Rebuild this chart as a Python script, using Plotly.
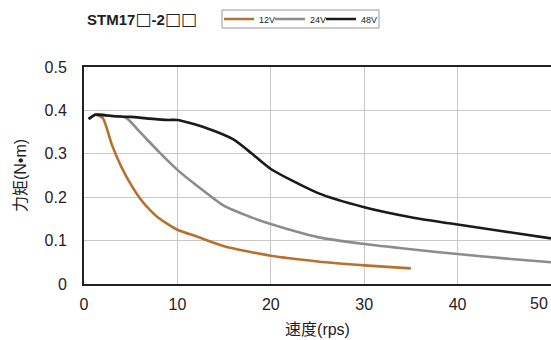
import plotly.graph_objects as go

x12 = [0.5, 1.2, 2, 3, 4, 5, 6, 7, 8, 10, 12, 15, 20, 25, 30, 35]
y12 = [0.38, 0.39, 0.383, 0.32, 0.27, 0.23, 0.197, 0.172, 0.152, 0.125, 0.11, 0.087, 0.065, 0.052, 0.043, 0.036]

x24 = [0.5, 1.2, 3, 4.5, 6, 8, 10, 12, 15, 18, 20, 25, 30, 35, 40, 45, 50]
y24 = [0.38, 0.39, 0.387, 0.383, 0.35, 0.305, 0.263, 0.228, 0.18, 0.153, 0.138, 0.108, 0.092, 0.08, 0.069, 0.059, 0.05]

x48 = [0.5, 1.2, 3, 5, 7, 9, 10, 13, 16, 18, 20, 25, 30, 35, 40, 45, 50]
y48 = [0.38, 0.39, 0.387, 0.385, 0.381, 0.378, 0.378, 0.36, 0.333, 0.3, 0.265, 0.21, 0.177, 0.154, 0.137, 0.121, 0.105]

names = ["12V", "24V", "48V"]
colors = ["#B5712F", "#8C8C8C", "#1A1A1A"]
yticks = [0, 0.1, 0.2, 0.3, 0.4, 0.5]
ytick_labels = ["0", "0.1", "0.2", "0.3", "0.4", "0.5"]
xticks = [0, 10, 20, 30, 40, 50]
xtick_labels = ["0", "10", "20", "30", "40", ""]
xtick_edge = 50
xtick_label_edge = "50"

FONT = "Liberation Sans, Noto Sans CJK SC"
BOX = '<span style="font-family:DejaVu Sans;font-weight:normal;font-size:17px">□</span>'
title_text = "<b>STM17" + BOX + "-2" + BOX + BOX + "</b>"

# plot area in pixels
L, R, T, B = 84, 551, 67, 284
def px_x(p):
    return (p - L) / (R - L)
def px_y(p):
    return (B - p) / (B - T)

legend_ids = ["legend", "legend2", "legend3"]
legend_lefts = [219, 270, 321]

fig = go.Figure()
for xs, ys, n, c, lid in [(x12, y12, names[0], colors[0], legend_ids[0]),
                          (x24, y24, names[1], colors[1], legend_ids[1]),
                          (x48, y48, names[2], colors[2], legend_ids[2])]:
    fig.add_trace(go.Scatter(x=xs, y=ys, name=n, mode="lines", legend=lid,
                             line=dict(color=c, width=2.6, shape="spline", smoothing=0.6)))

legend_common = dict(orientation="h", xanchor="left", yanchor="middle",
                     font=dict(size=9, color="#222", family=FONT),
                     bgcolor="rgba(0,0,0,0)", borderwidth=0, itemwidth=30)
layout_legends = {}
for lid, lx in zip(legend_ids, legend_lefts):
    layout_legends[lid] = dict(legend_common, x=px_x(lx), y=px_y(19))

fig.update_layout(
    width=551, height=340,
    margin=dict(l=L, r=551 - R, t=T, b=340 - B),
    paper_bgcolor="white", plot_bgcolor="white",
    font=dict(family=FONT, color="#222"),
    showlegend=True,
    **layout_legends,
)
fig.add_shape(type="rect", xref="paper", yref="paper",
              x0=px_x(222), x1=px_x(379), y0=px_y(10), y1=px_y(28),
              line=dict(color="#999", width=1), fillcolor="rgba(0,0,0,0)")
fig.add_annotation(text=title_text, xref="paper", yref="paper",
                   x=px_x(85), y=px_y(19), xanchor="left", yanchor="middle",
                   showarrow=False, font=dict(size=15, color="#222", family=FONT))
# last x tick label, kept inside the window like the reference
fig.add_annotation(text=xtick_label_edge, xref="x", yref="paper",
                   x=xtick_edge, y=0, xanchor="right", yanchor="top",
                   xshift=-1, yshift=-9, showarrow=False,
                   font=dict(size=16, color="#222", family=FONT))

fig.update_xaxes(range=[0, 50], tickvals=xticks, ticktext=xtick_labels,
                 showgrid=True, gridcolor="#C8C8C8", gridwidth=1,
                 showline=True, linecolor="#222", linewidth=2, mirror=True,
                 ticks="", tickfont=dict(size=16, family=FONT), zeroline=False,
                 ticklabeloverflow="allow", ticklabelstandoff=5, automargin=False,
                 title=dict(text="速度(rps)", font=dict(size=16, family=FONT), standoff=12))
fig.update_yaxes(range=[0, 0.5], tickvals=yticks, ticktext=ytick_labels,
                 showgrid=True, gridcolor="#C8C8C8", gridwidth=1,
                 showline=True, linecolor="#222", linewidth=2, mirror=True,
                 ticks="", tickfont=dict(size=16, family=FONT), zeroline=False,
                 ticklabelstandoff=12, automargin=False,
                 title=dict(text="力矩(N•m)", font=dict(size=16, family=FONT), standoff=14))

fig.write_html("out.html")
